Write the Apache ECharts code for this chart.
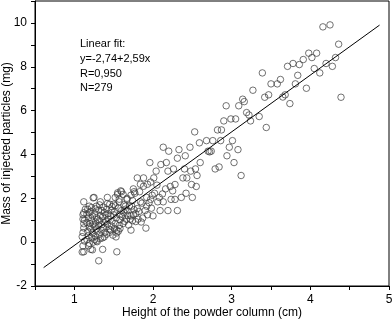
<!DOCTYPE html>
<html>
<head>
<meta charset="utf-8">
<script src="https://cdn.jsdelivr.net/npm/echarts@6/dist/echarts.min.js"></script>
<style>html,body{margin:0;padding:0;background:#fff;}#c{width:392px;height:320px;}</style>
</head>
<body>
<div id="c"></div>
<script>
// Height of the powder column (cm), Mass of injected particles (mg)
var upperPoints = [
[4.16,9.82],[4.25,9.91],[4.36,9.03],[4.32,8.42],[4.28,8.02],[4.20,8.15],[4.12,7.72],[4.05,7.92],[4.08,8.62],[3.98,8.62],[4.02,8.42],[3.91,8.33],[3.86,8.10],[3.78,8.15],[3.71,8.02],[3.84,7.61],[3.81,7.22],[3.95,7.02],[3.74,6.32],[3.65,6.62],[3.68,6.72],[4.39,6.61],[3.39,7.72],[3.50,7.22],[3.58,7.22],[3.62,7.42],[3.42,6.61],[3.47,6.72],[3.27,6.93],[3.44,5.23],[3.35,5.73],[3.24,5.53],[3.19,5.91],[3.22,5.80],[3.16,6.41],[3.14,6.52],[3.09,6.22],[2.93,6.22],[2.99,5.62],[3.05,5.62],[2.90,5.53],[2.82,5.12],[2.87,5.12]
];
var middlePoints = [
[2.53,5.03],[2.59,4.53],[2.47,4.33],[2.33,4.22],[2.13,4.33],[2.20,4.15],[2.41,3.94],[2.31,3.83],[2.17,3.63],[2.10,3.54],[1.96,3.63],[2.04,3.24],[2.19,3.24],[2.26,3.34],[2.40,3.34],[2.48,3.24],[2.54,3.34],[2.60,3.63],[2.56,3.04],[2.38,2.93],[2.43,2.93],[2.28,2.63],[2.49,2.63],[2.55,2.54],[2.22,2.54],[2.16,2.43],[2.25,2.34],[2.23,1.95],[2.28,1.95],[2.36,2.04],[2.42,2.23],[2.50,2.04],[2.19,1.44],[2.31,1.44],[2.13,1.84],[2.08,2.04],[2.06,1.84],[2.09,1.44],[1.99,2.14],[2.02,2.23],[1.97,1.95],[2.01,2.93],[1.97,2.74],[1.93,2.64],[1.88,2.93],[1.80,2.93],[1.84,2.64],[1.92,2.04],[1.84,1.84],[1.92,1.64],[1.90,1.44],[1.93,1.25],[1.91,0.64],[1.80,1.53],[1.75,2.43],[1.77,2.23],[1.72,2.14],[1.67,1.95],[1.65,1.64],[1.67,1.44],[1.73,1.64],[1.75,1.25],[1.81,1.05],[1.78,0.94],[1.72,0.55],[1.62,0.85],[1.58,1.25],[1.60,1.44],[1.57,1.84],[1.55,2.25],[1.59,2.34],[1.52,2.04],[1.50,1.73],[1.45,1.73],[1.42,2.04],[1.33,1.84],[1.25,2.04],[1.12,1.84],[1.19,1.64],[1.28,1.64],[1.35,1.44],[1.40,1.25],[1.54,0.55],[1.53,0.24],[1.46,0.55],[1.38,0.24],[1.36,-0.33],[1.31,-0.85],[1.54,-0.44],[1.12,-0.44],[1.11,-0.17],[1.18,-0.17],[1.21,-0.33],[1.28,0.06],[1.11,0.44],[1.12,0.84],[1.11,1.05],[1.12,1.34],
[2.68,4.63],[2.76,4.63],[2.86,4.63],[3.01,4.63],[2.97,4.33],[3.08,4.22],[2.94,3.94],[3.03,3.63],[3.12,3.04],[2.79,3.34],[2.84,3.43],[2.70,4.15],[2.74,4.15],[2.72,4.12]
];
var clusterPoints = [
[1.11,1.25],[1.13,1.00],[1.12,0.65],[1.10,0.25],[1.13,0.05],[1.10,-0.45],
[1.17,1.50],[1.16,1.28],[1.18,1.10],[1.16,0.90],[1.19,0.70],[1.17,0.50],[1.18,0.30],[1.16,0.12],[1.19,-0.05],
[1.22,1.58],[1.21,1.40],[1.23,1.20],[1.22,1.00],[1.24,0.80],[1.21,0.62],[1.23,0.42],[1.22,0.20],[1.24,0.00],[1.23,-0.35],[1.24,2.02],
[1.27,1.52],[1.26,1.30],[1.28,1.12],[1.27,0.92],[1.26,0.72],[1.29,0.48],[1.27,0.28],[1.29,0.02],[1.26,0.12],
[1.32,1.70],[1.31,1.46],[1.33,1.22],[1.32,0.98],[1.31,0.76],[1.34,0.56],[1.32,0.36],[1.33,0.16],
[1.37,1.60],[1.38,1.35],[1.36,1.15],[1.38,0.90],[1.37,0.66],[1.39,0.45],[1.36,0.20],
[1.42,1.76],[1.41,1.50],[1.43,1.05],[1.42,0.82],[1.44,0.60],[1.41,0.36],[1.43,1.30],
[1.47,1.45],[1.46,1.20],[1.48,0.96],[1.47,0.74],[1.49,0.32],[1.48,1.62],
[1.52,1.66],[1.51,1.40],[1.53,1.10],[1.52,0.85],[1.51,0.62],[1.54,0.42],[1.55,2.18],
[1.57,1.96],[1.56,1.55],[1.58,1.02],[1.57,0.76],[1.56,0.50],[1.60,2.30],
[1.62,2.18],[1.63,1.70],[1.61,1.16],[1.64,0.95],[1.63,1.35],
[1.67,2.00],[1.68,1.22],[1.66,1.05],[1.69,0.78],[1.70,1.65],
[1.74,1.90],[1.76,1.48],[1.72,1.20],[1.78,1.30],[1.74,0.98],[1.76,2.30],
[1.83,2.30],[1.86,1.78],[1.82,1.40],[1.87,1.10],[1.85,0.92],[1.88,2.55],
[1.14,1.50],[1.20,0.85],[1.30,1.05],[1.35,0.80],[1.45,0.45],[1.50,1.25],[1.40,0.95],[1.28,0.60],[1.19,1.35],[1.58,0.62],[1.65,1.50],[1.71,1.05],[1.95,1.80],[2.05,2.60],[2.12,2.20],[1.98,1.55],[2.00,1.20]
];
// Linear fit line endpoints
var fitLine = [[0.61,-1.16],[4.88,9.90]];
var fitText = ['Linear fit:', 'y=-2,74+2,59x', 'R=0,950', 'N=279'];
var xTicks = [1,2,3,4,5];
var yTicks = [-2,0,2,4,6,8,10];

var measurements = upperPoints.concat(middlePoints, clusterPoints);
var FONT = 'Liberation Sans';

var chart = echarts.init(document.getElementById('c'), null, {renderer:'canvas'});
chart.setOption({
  animation: false,
  backgroundColor: '#fff',
  textStyle: {fontFamily: FONT},
  title: {
    text: fitText.join('\n'),
    left: 80, top: 37, padding: 0,
    textStyle: {fontFamily: FONT, fontSize: 11, fontWeight: 'normal', color: '#000', lineHeight: 14.6}
  },
  grid: {left: 35, right: 3, top: 1, bottom: 34, containLabel: false, outerBoundsMode: 'none',
    show: true, borderColor: '#000', borderWidth: 1},
  xAxis: {
    type: 'value', min: 0.5, max: 5, interval: 0.5,
    name: 'Height of the powder column (cm)', nameLocation: 'middle', nameGap: 21, nameMoveOverlap: false,
    nameTextStyle: {fontFamily: FONT, fontSize: 12, color: '#000'},
    axisLine: {show: true, onZero: false, lineStyle: {color: '#000', width: 1}},
    axisTick: {show: true, inside: false, length: 4, lineStyle: {color: '#000'}},
    axisLabel: {margin: 8, fontFamily: FONT, fontSize: 12, color: '#000', hideOverlap: false,
      formatter: function (v) { return xTicks.indexOf(Math.round(v*100)/100) >= 0 ? String(Math.round(v)) : ''; }},
    splitLine: {show: false}
  },
  yAxis: {
    type: 'value', min: -2, max: 11, interval: 1,
    name: 'Mass of injected particles (mg)', nameLocation: 'middle', nameGap: 22, nameMoveOverlap: false,
    nameTextStyle: {fontFamily: FONT, fontSize: 12, color: '#000'},
    axisLine: {show: true, onZero: false, lineStyle: {color: '#000', width: 1}},
    axisTick: {show: true, inside: false, length: 4, lineStyle: {color: '#000'}},
    axisLabel: {margin: 8, fontFamily: FONT, fontSize: 12, color: '#000',
      formatter: function (v) { return yTicks.indexOf(Math.round(v)) >= 0 ? String(Math.round(v)) : ''; }},
    splitLine: {show: false}
  },
  series: [
    {
      type: 'scatter', data: measurements, symbol: 'circle', symbolSize: 6.5,
      itemStyle: {color: 'rgba(0,0,0,0)', borderColor: '#3a3a3a', borderWidth: 0.9},
      silent: true, z: 2
    },
    {
      type: 'line', data: fitLine, showSymbol: false, symbol: 'none',
      lineStyle: {color: '#000', width: 1}, silent: true, z: 3
    }
  ]
});
</script>
</body>
</html>
